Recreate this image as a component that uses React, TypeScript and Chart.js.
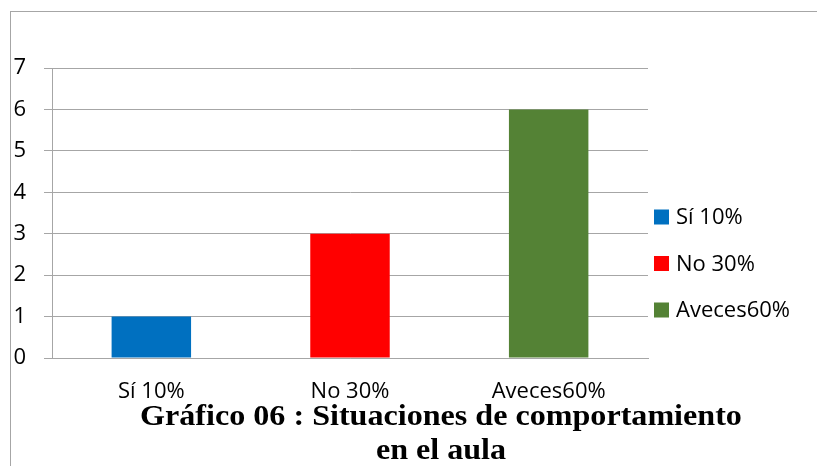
import React, { useEffect, useRef } from "react";
import { Chart, registerables } from "chart.js";

Chart.register(...registerables);

const categories = ["Sí 10%", "No 30%", "Aveces60%"];
const values = [1, 3, 6];
const colors = ["#0070C0", "#FF0000", "#548235"];
const yTicks = [0, 1, 2, 3, 4, 5, 6, 7];
const titleLines = ["Gráfico 06 : Situaciones de comportamiento", "en el aula"];

const W = 817;
const H = 466;
const FONT = "'Open Sans', 'Noto Sans', sans-serif";

export default function App() {
  const canvasRef = useRef<HTMLCanvasElement | null>(null);

  useEffect(() => {
    const canvas = canvasRef.current;
    if (!canvas) return;

    const legendPlugin = {
      id: "customLegend",
      afterDraw(chart: any) {
        const ctx = chart.ctx;
        ctx.save();
        const startY = 217;
        const gap = 46.5;
        ctx.font = `22px ${FONT}`;
        ctx.textBaseline = "middle";
        ctx.textAlign = "left";
        categories.forEach((label, i) => {
          const cy = startY + i * gap;
          ctx.fillStyle = colors[i];
          ctx.fillRect(654, cy - 7.5, 15, 15);
          ctx.fillStyle = "#000";
          ctx.fillText(label, 676, cy + 1);
        });
        ctx.restore();
      },
    };

    const chart = new Chart(canvas, {
      type: "bar",
      data: {
        labels: categories,
        datasets: [
          {
            label: "Serie",
            data: values,
            backgroundColor: colors,
            borderWidth: 0,
            barPercentage: 0.4,
            categoryPercentage: 1,
          },
        ],
      },
      options: {
        responsive: false,
        animation: false,
        devicePixelRatio: 1,
        layout: { padding: { top: 68, right: W - 648, bottom: 0, left: 0 } },
        plugins: {
          legend: { display: false },
          tooltip: { enabled: false },
          title: { display: false },
        },
        scales: {
          x: {
            grid: { display: false },
            border: { display: true, color: "#a6a6a6", width: 1 },
            ticks: {
              color: "#000",
              font: { family: FONT, size: 22 },
              padding: 13,
              maxRotation: 0,
            },
            afterFit(scale: any) {
              scale.height = H - 358;
            },
          },
          y: {
            min: 0,
            max: 7,
            afterBuildTicks(scale: any) {
              scale.ticks = yTicks.map((v) => ({ value: v }));
            },
            grid: {
              color: "#a6a6a6",
              lineWidth: 1,
              tickLength: 8,
              drawTicks: true,
            },
            border: { display: true, color: "#a6a6a6", width: 1 },
            ticks: {
              color: "#000",
              font: { family: FONT, size: 22 },
              padding: 18,
              stepSize: 1,
            },
            afterFit(scale: any) {
              scale.width = 52;
            },
          },
        },
      },
      plugins: [legendPlugin],
    } as any);

    return () => chart.destroy();
  }, []);

  return (
    <div style={{ position: "absolute", left: 0, top: 0, width: W, height: H, overflow: "hidden", background: "#fff" }}>
      <div
        style={{
          position: "absolute",
          left: 10,
          top: 11,
          width: W,
          height: H,
          borderTop: "1px solid #a6a6a6",
          borderLeft: "1px solid #a6a6a6",
        }}
      />
      <canvas
        ref={canvasRef}
        width={W}
        height={H}
        style={{ position: "absolute", left: 0, top: 0, width: W, height: H }}
      />
      <div
        style={{
          position: "absolute",
          left: 441 - 350,
          width: 700,
          top: 398,
          textAlign: "center",
          fontFamily: "'Liberation Serif', 'Times New Roman', serif",
          fontWeight: "bold",
          fontSize: 30,
          lineHeight: "34px",
          color: "#000",
          transform: "scaleX(1.07)",
          transformOrigin: "50% 50%",
          whiteSpace: "nowrap",
        }}
      >
        {titleLines[0]}
        <br />
        {titleLines[1]}
      </div>
    </div>
  );
}
